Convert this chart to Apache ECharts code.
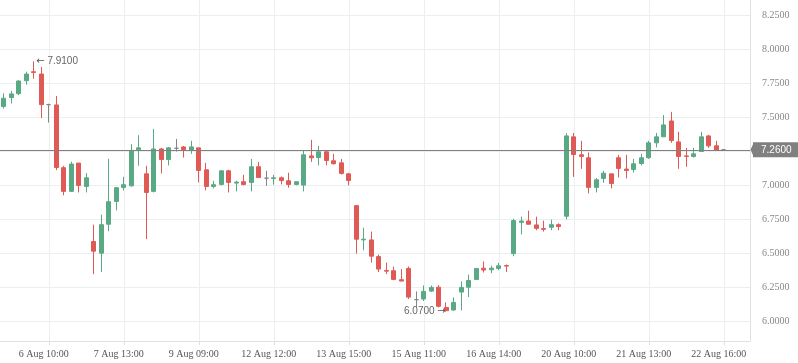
<!DOCTYPE html>
<html><head><meta charset="utf-8">
<script src="https://cdn.jsdelivr.net/npm/echarts@6/dist/echarts.min.js"></script>
<style>html,body{margin:0;padding:0;background:#fff}#c{width:798px;height:363px}</style>
</head><body><div id="c"></div>
<script>
// ---- data ----
const slotCount = 100;
const tickIndex = [6, 16, 26, 36, 46, 56, 66, 76, 86, 96];
const tickLabels = ['6 Aug 10:00', '7 Aug 13:00', '9 Aug 09:00', '12 Aug 12:00', '13 Aug 15:00',
  '15 Aug 11:00', '16 Aug 14:00', '20 Aug 10:00', '21 Aug 13:00', '22 Aug 16:00'];
const yTicks = [6.0, 6.25, 6.5, 6.75, 7.0, 7.25, 7.5, 7.75, 8.0, 8.25];
const yMin = 5.853, yMax = 8.362;

const opens = [7.578,7.644,7.673,7.768,7.834,7.817,7.592,7.590,7.128,6.954,
  7.162,6.990,6.585,6.499,6.712,6.880,6.983,6.995,7.260,7.083,
  6.954,7.266,7.188,7.271,7.281,7.257,7.274,7.113,6.990,7.005,
  7.105,7.015,7.025,7.020,7.135,7.051,7.049,7.054,7.032,7.005,
  7.000,7.215,7.203,7.245,7.179,7.164,7.083,6.849,6.597,6.597,
  6.474,6.372,6.370,6.304,6.387,6.157,6.162,6.220,6.249,6.100,
  6.081,6.213,6.249,6.306,6.389,6.377,6.387,6.408,6.496,6.726,
  6.736,6.707,6.680,6.690,6.709,6.771,7.355,7.223,7.201,6.983,
  7.049,7.083,7.201,7.118,7.115,7.159,7.201,7.311,7.355,7.472,
  7.318,7.215,7.211,7.247,7.362,7.289,7.260];
const closes = [7.639,7.671,7.766,7.817,7.829,7.592,7.592,7.130,6.954,7.155,
  6.998,7.054,6.514,6.709,6.878,6.981,7.003,7.255,7.274,6.946,
  7.266,7.188,7.274,7.271,7.262,7.281,7.108,6.990,7.003,7.105,
  7.020,7.022,7.005,7.135,7.056,7.051,7.054,7.034,7.005,7.025,
  7.223,7.201,7.245,7.181,7.157,7.086,7.034,6.602,6.602,6.477,
  6.382,6.367,6.306,6.294,6.176,6.157,6.218,6.247,6.108,6.076,
  6.137,6.247,6.298,6.387,6.375,6.389,6.406,6.404,6.739,6.736,
  6.712,6.682,6.675,6.709,6.695,7.362,7.225,7.211,6.983,7.039,
  7.088,7.012,7.123,7.108,7.157,7.201,7.311,7.355,7.443,7.328,
  7.211,7.211,7.230,7.355,7.289,7.255,7.260];
const lows = [7.563,7.601,7.663,7.739,7.783,7.494,7.460,7.110,6.925,6.949,
  6.946,6.946,6.345,6.360,6.660,6.814,6.961,6.988,7.142,6.602,
  6.946,7.086,7.145,7.247,7.203,7.230,7.020,6.961,6.976,6.998,
  6.946,6.954,6.998,6.954,7.056,6.995,7.003,7.005,6.981,6.998,
  6.954,7.171,7.145,7.145,7.152,7.078,6.998,6.496,6.521,6.430,
  6.360,6.345,6.301,6.294,6.162,6.103,6.147,6.213,6.100,6.070,
  6.076,6.078,6.176,6.301,6.357,6.352,6.374,6.360,6.477,6.638,
  6.712,6.668,6.658,6.668,6.668,6.748,7.061,7.120,6.939,6.946,
  7.017,6.976,7.056,7.049,7.093,7.145,7.193,7.277,7.355,7.311,
  7.120,7.135,7.203,7.247,7.274,7.255,7.260];
const highs = [7.676,7.693,7.771,7.834,7.910,7.869,7.599,7.656,7.142,7.172,
  7.162,7.088,6.709,6.783,7.194,6.985,7.061,7.301,7.367,7.142,
  7.414,7.274,7.281,7.340,7.288,7.326,7.274,7.164,7.032,7.110,
  7.113,7.032,7.076,7.193,7.171,7.105,7.076,7.064,7.091,7.025,
  7.252,7.333,7.289,7.252,7.230,7.193,7.091,6.849,6.687,6.658,
  6.489,6.430,6.401,6.382,6.401,6.218,6.262,6.262,6.264,6.137,
  6.174,6.291,6.342,6.387,6.438,6.408,6.428,6.416,6.753,6.768,
  6.812,6.768,6.739,6.746,6.719,7.382,7.384,7.326,7.240,7.052,
  7.105,7.083,7.223,7.223,7.193,7.230,7.326,7.384,7.516,7.539,
  7.392,7.274,7.274,7.392,7.370,7.326,7.260];

// ---- build ----
const categories = [];
for (let i = 0; i < slotCount; i++) {
  const k = tickIndex.indexOf(i);
  categories.push(k >= 0 ? tickLabels[k] : '');
}
const candleData = [];
for (let i = 0; i < slotCount; i++) {
  candleData.push(i < opens.length ? [opens[i], closes[i], lows[i], highs[i]] : '-');
}
const lastClose = closes[closes.length - 1];
const isTick = (i) => tickIndex.indexOf(i) >= 0;

const GREEN = '#5aa985', RED = '#e05a55', GREY = '#858585', GRID = '#eceff2', AXIS = '#dde1e6';
const GRID_RIGHT = 48, W = 798;
const arrowRich = { ar: { fontFamily: 'DejaVu Sans', fontSize: 10, color: '#555' } };

const chart = echarts.init(document.getElementById('c'), null, { renderer: 'canvas' });
chart.setOption({
  animation: false,
  backgroundColor: '#fff',
  grid: { left: 0, right: GRID_RIGHT, top: 0, bottom: 22, containLabel: false },
  xAxis: {
    type: 'category', data: categories, boundaryGap: true,
    axisLine: { show: true, lineStyle: { color: AXIS } },
    axisTick: { show: true, alignWithLabel: true, interval: (i) => isTick(i), length: 4, lineStyle: { color: AXIS } },
    splitLine: { show: true, alignWithLabel: true, interval: (i) => isTick(i), lineStyle: { color: GRID } },
    axisLabel: { interval: (i) => isTick(i), color: '#555', fontFamily: 'Liberation Serif', fontSize: 10, margin: 8, padding: [0, 10, 0, 0] }
  },
  yAxis: {
    type: 'value', position: 'right', min: yMin, max: yMax, scale: true,
    axisLine: { show: true, lineStyle: { color: AXIS } },
    axisTick: { show: false, customValues: yTicks },
    splitLine: { show: true, lineStyle: { color: GRID } },
    axisLabel: { customValues: yTicks, color: '#888', fontFamily: 'Liberation Serif', fontSize: 10, margin: 12,
      formatter: (v) => v.toFixed(4) }
  },
  series: [{
    type: 'candlestick',
    data: candleData,
    barWidth: 4.5,
    itemStyle: {
      color: GREEN, color0: RED, borderColor: GREEN, borderColor0: RED,
      borderColorDoji: GREY, borderWidth: 1
    },
    markPoint: {
      symbol: 'circle', symbolSize: 1, silent: true,
      itemStyle: { color: 'rgba(0,0,0,0)' },
      label: { show: true, color: '#666', fontFamily: 'Liberation Sans', fontSize: 10, rich: arrowRich },
      data: [
        { type: 'max', valueDim: 'highest',
          label: { position: 'right', distance: 2, formatter: (p) => '{ar|\u2190} ' + Number(p.value).toFixed(4) } },
        { type: 'min', valueDim: 'lowest',
          label: { position: 'left', distance: 0, formatter: (p) => Number(p.value).toFixed(4) + ' {ar|\u2192}' } }
      ]
    },
    markLine: {
      silent: true, symbol: ['none', 'none'],
      lineStyle: { color: '#808080', width: 1, type: 'solid' },
      label: {
        show: true, position: 'end', distance: 3,
        formatter: (p) => Number(p.value).toFixed(4),
        backgroundColor: '#808080', color: '#fff', fontFamily: 'Liberation Sans', fontSize: 10,
        padding: [3, 14, 2, 8], borderRadius: [0, 2, 2, 0]
      },
      data: [{ yAxis: lastClose }]
    }
  }]
});
// left-pointing tip of the price tag
const py = chart.convertToPixel({ yAxisIndex: 0 }, lastClose);
const gx = W - GRID_RIGHT;
chart.setOption({
  graphic: [{
    type: 'polygon', z: 100,
    shape: { points: [[gx + 0.5, py], [gx + 4, py - 7.5], [gx + 4, py + 7.5]] },
    style: { fill: '#808080' }
  }]
});
</script>
</body></html>
